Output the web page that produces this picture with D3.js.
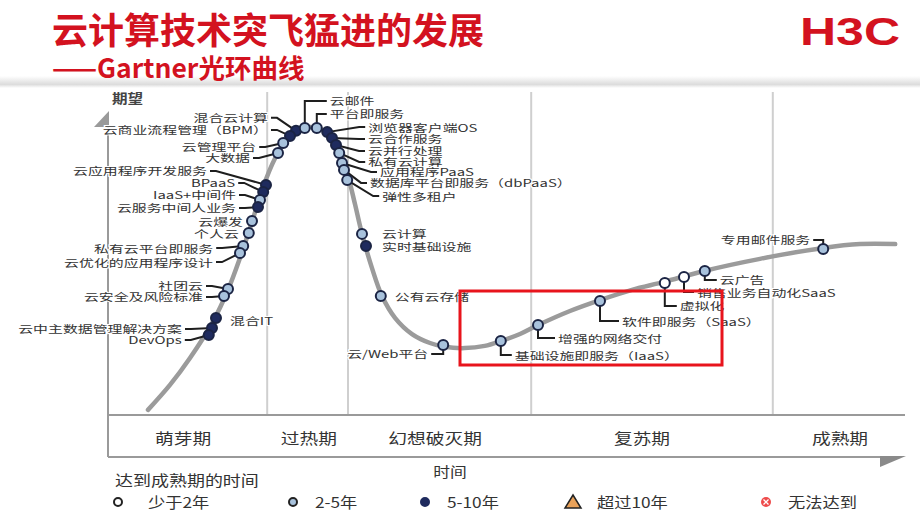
<!DOCTYPE html>
<html>
<head>
<meta charset="utf-8">
<script src="https://cdn.jsdelivr.net/npm/d3@7"></script>
<style>
  body { margin: 0; background: #fff; }
  text { font-family: "Noto Sans CJK SC", "Noto Sans", sans-serif; }
</style>
</head>
<body>
<svg id="chart" width="920" height="518"></svg>
<script>
// hype curve, time (0-100) vs expectation (0-100)
var curveTime = [5, 7.75, 10.25, 13.1, 15, 16.5, 18, 19.25, 20.9, 22.5, 24, 25.5, 27.1, 28.4, 29.25, 29.9, 30.9, 31.75, 33, 34.25, 35.9, 38, 40.25, 42.1, 44.6, 47.1, 49.1, 51.5, 53.75, 57.75, 61.5, 65.5, 69.5, 74.5, 81.5, 89.4, 94, 98.4];
var curveExpect = [1.6, 9.4, 17.8, 29.1, 39.1, 49.1, 60.3, 70.3, 80.3, 86.6, 89.4, 90, 88.8, 85.9, 81.3, 75.9, 65.6, 56.6, 45.9, 37.2, 30.3, 25.3, 22.5, 21.3, 20.9, 21.6, 23.1, 25.3, 28.1, 32.5, 35.9, 39.1, 41.6, 45, 48.8, 52.2, 53.4, 53.4];

// technologies: 0 = 少于2年, 1 = 2-5年, 2 = 5-10年
var techNames = ["混合云计算", "云商业流程管理（BPM）", "云管理平台", "大数据", "云应用程序开发服务", "BPaaS", "IaaS+中间件", "云服务中间人业务", "云爆发", "个人云", "私有云平台即服务", "云优化的应用程序设计", "社团云", "云安全及风险标准", "混合IT", "云中主数据管理解决方案", "DevOps", "云邮件", "平台即服务", "浏览器客户端OS", "云合作服务", "云并行处理", "私有云计算", "应用程序PaaS", "数据库平台即服务（dbPaaS）", "弹性多租户", "云计算", "实时基础设施", "公有云存储", "云/Web平台", "基础设施即服务（IaaS）", "增强的网络交付", "软件即服务（SaaS）", "虚拟化", "销售业务自动化SaaS", "云广告", "专用邮件服务"];
var techTime = [23.5, 22.75, 21.9, 21.25, 19.75, 19.4, 19, 18.75, 18, 17.6, 16.9, 16.5, 15, 14.5, 13.5, 13, 12.6, 24.6, 26.1, 27.4, 28, 28.5, 28.9, 29.25, 29.5, 29.9, 31.75, 32.25, 34.1, 41.9, 49.1, 53.75, 61.5, 69.6, 72, 74.6, 89.4];
var techExpect = [88.8, 87.2, 85, 81.9, 71.9, 69.7, 67.2, 65, 60.6, 56.9, 52.8, 50.6, 39.4, 37.2, 30.3, 27.2, 25, 89.7, 89.7, 88.4, 86.6, 84.4, 81.9, 78.75, 76.6, 73.4, 56.6, 52.8, 37.2, 21.9, 23.1, 28.1, 35.6, 41.25, 43.1, 45, 51.9];
var techClass = [2, 2, 1, 1, 2, 2, 1, 2, 1, 1, 1, 1, 1, 1, 2, 2, 2, 1, 1, 2, 2, 2, 1, 1, 1, 1, 1, 2, 1, 1, 1, 1, 1, 0, 0, 1, 1];

var phaseNames = ["萌芽期", "过热期", "幻想破灭期", "复苏期", "成熟期"];
var phaseCenters = [9.4, 25.1, 40.9, 66.75, 91.5];
var phaseBounds = [19.9, 30, 52.9, 83.1];

var legendNames = ["少于2年", "2-5年", "5-10年", "超过10年", "无法达到"];

// label placement: [kind, dx, dy] relative to the dot
// L/R = slanted leader, NL/NR = no leader, EL/ER = elbow leader
var labelLayout = [
  ["L", -28, -13], ["L", -22, -6], ["L", -27, 4], ["L", -28, 5], ["L", -59, -14],
  ["L", -28, -9], ["L", -24, -5], ["L", -22, 1], ["NL", -9, 0], ["NL", -10, 1],
  ["L", -30, 2], ["L", -27, 9], ["L", -25, -3], ["L", -21, 1], ["NR", 14, 2],
  ["L", -30, 1], ["L", -27, 5], ["ER", 25, -27], ["ER", 13, -14], ["R", 41, -5],
  ["R", 36, 1], ["R", 32, 6], ["R", 29, 9], ["R", 38, 9], ["R", 26, 13],
  ["R", 35, 16], ["NR", 20, 0], ["NR", 16, 0], ["NR", 14, 1], ["EL", -15, 9],
  ["ER", 14, 14], ["ER", 20, 13], ["ER", 22, 20], ["ER", 15, 23], ["ER", 13, 15],
  ["ER", 15, 9], ["EL", -13, -9]
];

var red = "#d3121f";
var classFill = ["#ffffff", "#a8c2dc", "#1f2b5e"];
var dotStroke = "#1b2444";
var labelColor = "#333";

var svg = d3.select("#chart");

var x = d3.scaleLinear().domain([0, 100]).range([108, 908]);
var y = d3.scaleLinear().domain([0, 100]).range([415, 95]);

// header
var defs = svg.append("defs");
var grad = defs.append("linearGradient")
  .attr("id", "band")
  .attr("x1", 0).attr("y1", 0).attr("x2", 0).attr("y2", 1);
grad.append("stop").attr("offset", "0%").attr("stop-color", "#ffffff");
grad.append("stop").attr("offset", "70%").attr("stop-color", "#dcdcdc");
grad.append("stop").attr("offset", "100%").attr("stop-color", "#ffffff");
svg.append("rect")
  .attr("x", 0).attr("y", 76).attr("width", 920).attr("height", 12)
  .attr("fill", "url(#band)");

svg.append("text")
  .attr("x", 52).attr("y", 44)
  .attr("fill", red)
  .attr("font-size", 36)
  .attr("font-weight", "bold")
  .text("云计算技术突飞猛进的发展");

svg.append("text")
  .attr("x", 52).attr("y", 78)
  .attr("fill", red)
  .attr("font-size", 26.5)
  .attr("font-weight", "bold")
  .text("——Gartner光环曲线");

svg.append("text")
  .attr("x", 800).attr("y", 45)
  .attr("fill", red)
  .attr("font-size", 38)
  .attr("font-weight", "bold")
  .attr("textLength", 100)
  .attr("lengthAdjust", "spacingAndGlyphs")
  .style("font-family", "'Liberation Sans', Arial, sans-serif")
  .text("H3C");

// phase dividers
svg.append("g")
  .selectAll("line")
  .data(phaseBounds)
  .join("line")
  .attr("x1", function (d) { return x(d); })
  .attr("x2", function (d) { return x(d); })
  .attr("y1", 92)
  .attr("y2", y(0))
  .attr("stroke", "#cfcfcf")
  .attr("stroke-width", 2);

// axes
var axisColor = "#9a9a9a";
svg.append("line")
  .attr("x1", x(0)).attr("x2", x(0))
  .attr("y1", 124).attr("y2", 457)
  .attr("stroke", axisColor).attr("stroke-width", 2);
svg.append("path")
  .attr("d", "M" + (x(0) + 1) + ",111L" + (x(0) + 1) + ",127L" + (x(0) - 14) + ",127Z")
  .attr("fill", axisColor);
svg.append("line")
  .attr("x1", x(0)).attr("x2", 905)
  .attr("y1", y(0)).attr("y2", y(0))
  .attr("stroke", axisColor).attr("stroke-width", 2);
svg.append("line")
  .attr("x1", x(0)).attr("x2", 882)
  .attr("y1", 457).attr("y2", 457)
  .attr("stroke", axisColor).attr("stroke-width", 2);
svg.append("path")
  .attr("d", "M880,456L906,456L880,467Z")
  .attr("fill", "#8a8a8a");

function scaledText(g, tx, ty, str, size, sx, anchor) {
  return g.append("text")
    .attr("transform", "translate(" + tx + "," + ty + ") scale(" + sx + ",1)")
    .attr("font-size", size)
    .attr("text-anchor", anchor || "start")
    .attr("dominant-baseline", "central")
    .attr("fill", labelColor)
    .text(str);
}

var textLayer = svg.append("g");
scaledText(textLayer, 112, 97, "期望", 13, 1.2).attr("font-weight", "bold").attr("fill", "#444");

phaseNames.forEach(function (p, i) {
  scaledText(textLayer, x(phaseCenters[i]), 437, p, 15, 1.25, "middle");
});
scaledText(textLayer, 450, 471, "时间", 14, 1.2, "middle");

// tech labels (white halo hides the grid lines beneath)
var techs = techNames.map(function (n, i) {
  return {
    name: n,
    cx: x(techTime[i]),
    cy: y(techExpect[i]),
    cls: techClass[i],
    kind: labelLayout[i][0],
    lx: x(techTime[i]) + labelLayout[i][1],
    ly: y(techExpect[i]) + labelLayout[i][2]
  };
});

techs.forEach(function (t) {
  var leftSide = t.kind === "L" || t.kind === "NL" || t.kind === "EL";
  scaledText(textLayer, t.lx, t.ly, t.name, 10.5, 1.42, leftSide ? "end" : "start")
    .attr("stroke", "#fff")
    .attr("stroke-width", 2)
    .attr("paint-order", "stroke");
});

// curve
var pts = curveTime.map(function (t, i) { return [t, curveExpect[i]]; });
var line = d3.line()
  .x(function (d) { return x(d[0]); })
  .y(function (d) { return y(d[1]); })
  .curve(d3.curveCatmullRom);
svg.append("path")
  .datum(pts)
  .attr("d", line)
  .attr("fill", "none")
  .attr("stroke", "#9b9b9b")
  .attr("stroke-width", 4.5)
  .attr("stroke-linecap", "round");

// leaders
function leader(t) {
  if (t.kind === "L") return [[t.lx + 3, t.ly], [t.lx + 9, t.ly], [t.cx, t.cy]];
  if (t.kind === "R") return [[t.lx - 3, t.ly], [t.lx - 9, t.ly], [t.cx, t.cy]];
  if (t.kind === "EL") return [[t.lx + 3, t.ly], [t.cx, t.ly], [t.cx, t.cy]];
  if (t.kind === "ER") return [[t.lx - 3, t.ly], [t.cx, t.ly], [t.cx, t.cy]];
  return null;
}
svg.append("g")
  .selectAll("path")
  .data(techs.filter(function (t) { return leader(t); }))
  .join("path")
  .attr("d", function (t) { return d3.line()(leader(t)); })
  .attr("fill", "none")
  .attr("stroke", "#1e1e1e")
  .attr("stroke-width", 2);

// dots
svg.append("g")
  .selectAll("circle")
  .data(techs)
  .join("circle")
  .attr("cx", function (t) { return t.cx; })
  .attr("cy", function (t) { return t.cy; })
  .attr("r", 5)
  .attr("fill", function (t) { return classFill[t.cls]; })
  .attr("stroke", dotStroke)
  .attr("stroke-width", 2);

// highlight box
svg.append("rect")
  .attr("x", 460).attr("y", 291)
  .attr("width", 262).attr("height", 74)
  .attr("fill", "none")
  .attr("stroke", "#e8141c")
  .attr("stroke-width", 3);

// legend
var legend = svg.append("g");
scaledText(legend, 115, 480, "达到成熟期的时间", 15, 1.2);
var legX = [118, 293, 425, 573, 766];
var legGap = [30, 22, 22, 24, 22];
legendNames.forEach(function (n, i) {
  var cx = legX[i], cy = 502;
  if (i < 3) {
    legend.append("circle")
      .attr("cx", cx).attr("cy", cy).attr("r", 4)
      .attr("fill", classFill[i])
      .attr("stroke", i === 2 ? classFill[2] : "#222")
      .attr("stroke-width", 2);
  } else if (i === 3) {
    legend.append("path")
      .attr("d", "M" + cx + "," + (cy - 7) + "L" + (cx + 8) + "," + (cy + 6) + "L" + (cx - 8) + "," + (cy + 6) + "Z")
      .attr("fill", "#e9a25a")
      .attr("stroke", "#222")
      .attr("stroke-width", 1.5);
  } else {
    legend.append("circle")
      .attr("cx", cx).attr("cy", cy).attr("r", 5)
      .attr("fill", "#ee4b4b");
    legend.append("path")
      .attr("d", "M" + (cx - 2.5) + "," + (cy - 2.5) + "L" + (cx + 2.5) + "," + (cy + 2.5) + "M" + (cx + 2.5) + "," + (cy - 2.5) + "L" + (cx - 2.5) + "," + (cy + 2.5))
      .attr("stroke", "#fff")
      .attr("stroke-width", 1.3);
  }
  scaledText(legend, cx + legGap[i], cy, n, 15, 1.15);
});
</script>
</body>
</html>
